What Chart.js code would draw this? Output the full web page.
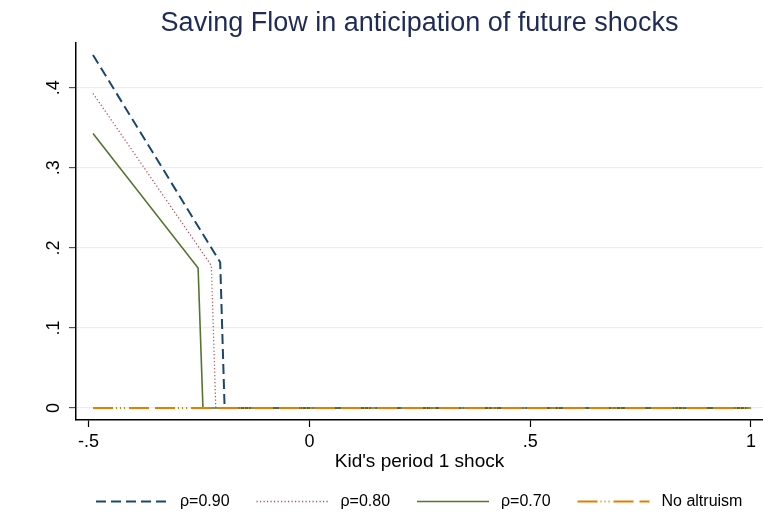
<!DOCTYPE html>
<html>
<head>
<meta charset="utf-8">
<title>Saving Flow</title>
<script src="https://cdn.jsdelivr.net/npm/chart.js@4/dist/chart.umd.min.js"></script>
<style>
  html, body { margin: 0; padding: 0; background: #fff; }
  canvas { display: block; }
</style>
</head>
<body>
<canvas id="savingChart" width="763" height="514"></canvas>
<script>
// Saving flow vs. kid's period 1 shock, one line per altruism level
const shock90 = [-0.49, -0.202, -0.192, 1];
const saving90 = [0.441, 0.182, 0, 0];

const shock80 = [-0.49, -0.222, -0.212, 1];
const saving80 = [0.393, 0.178, 0, 0];

const shock70 = [-0.49, -0.252, -0.241, 1];
const saving70 = [0.343, 0.175, 0, 0];

const shockNoAlt = [-0.49, 1];
const savingNoAlt = [0, 0];

const seriesLabels = ['\u03c1=0.90', '\u03c1=0.80', '\u03c1=0.70', 'No altruism'];

const xTickValues = [-0.5, 0, 0.5, 1];
const xTickLabels = ['-.5', '0', '.5', '1'];
const yTickValues = [0, 0.1, 0.2, 0.3, 0.4];
const yTickLabels = ['0', '.1', '.2', '.3', '.4'];

const FONT = '"Liberation Sans", Arial, sans-serif';

function toPoints(xs, ys) {
  return xs.map((x, i) => ({ x: x, y: ys[i] }));
}

// legend drawn under the axis title, four equal columns
const stataLegend = {
  id: 'stataLegend',
  afterDraw(chart) {
    const ctx = chart.ctx;
    const y = 501.5;
    chart.data.datasets.forEach((ds, i) => {
      const x0 = 96 + i * 160.5;
      ctx.save();
      ctx.strokeStyle = ds.borderColor;
      ctx.lineWidth = ds.borderWidth;
      ctx.setLineDash(ds.borderDash || []);
      ctx.beginPath();
      ctx.moveTo(x0, y);
      ctx.lineTo(x0 + 72, y);
      ctx.stroke();
      ctx.setLineDash([]);
      ctx.fillStyle = '#000';
      ctx.font = '16px ' + FONT;
      ctx.textBaseline = 'middle';
      ctx.fillText(ds.label, x0 + 84, y);
      ctx.restore();
    });
  }
};

const ctx = document.getElementById('savingChart').getContext('2d');
const savingChart = new Chart(ctx, {
  type: 'line',
  data: {
    datasets: [
      {
        label: seriesLabels[0],
        data: toPoints(shock90, saving90),
        borderColor: '#1a476f',
        borderWidth: 2,
        borderDash: [10, 5],
        order: 4
      },
      {
        label: seriesLabels[1],
        data: toPoints(shock80, saving80),
        borderColor: '#b84a56',
        borderWidth: 1.3,
        borderDash: [1.2, 2.3],
        order: 3
      },
      {
        label: seriesLabels[2],
        data: toPoints(shock70, saving70),
        borderColor: '#55752f',
        borderWidth: 1.6,
        order: 2
      },
      {
        label: seriesLabels[3],
        data: toPoints(shockNoAlt, savingNoAlt),
        borderColor: '#e37e00',
        borderWidth: 2,
        borderDash: [20, 3, 1, 3, 1, 3, 1, 4, 20, 6],
        order: 1
      }
    ]
  },
  options: {
    responsive: false,
    animation: false,
    layout: { padding: { top: 0, right: 0, bottom: 34, left: 0 } },
    elements: {
      point: { radius: 0 },
      line: { tension: 0, fill: false, borderCapStyle: 'butt' }
    },
    plugins: {
      legend: { display: false },
      tooltip: { enabled: false },
      title: {
        display: true,
        text: 'Saving Flow in anticipation of future shocks',
        color: '#1e2b58',
        fullSize: false,
        font: { family: FONT, size: 27, weight: 'normal', lineHeight: 1.2 },
        padding: { top: 7.5, bottom: 3.1 }
      }
    },
    scales: {
      x: {
        type: 'linear',
        min: -0.5285,
        max: 1.0272,
        afterBuildTicks: (axis) => { axis.ticks = xTickValues.map(v => ({ value: v })); },
        afterFit: (axis) => { axis.height = 60; },
        ticks: {
          color: '#000',
          font: { family: FONT, size: 18 },
          padding: 4,
          maxRotation: 0,
          callback: (v) => xTickLabels[xTickValues.indexOf(v)]
        },
        grid: {
          drawOnChartArea: false,
          drawTicks: true,
          tickLength: 7,
          tickColor: '#000',
          tickWidth: 1.2
        },
        border: { color: '#000', width: 1.5 },
        title: {
          display: true,
          text: "Kid's period 1 shock",
          color: '#000',
          font: { family: FONT, size: 19 },
          padding: { top: 2, bottom: 7 }
        }
      },
      y: {
        type: 'linear',
        min: -0.015,
        max: 0.456,
        afterBuildTicks: (axis) => { axis.ticks = yTickValues.map(v => ({ value: v })); },
        afterFit: (axis) => { axis.width = 76; },
        ticks: {
          color: '#000',
          font: { family: FONT, size: 18 },
          minRotation: 90,
          maxRotation: 90,
          crossAlign: 'center',
          padding: 7,
          callback: (v) => yTickLabels[yTickValues.indexOf(v)]
        },
        grid: {
          color: '#e8eff2',
          lineWidth: 1.2,
          tickLength: 7,
          tickColor: '#555',
          tickWidth: 1.2
        },
        border: { color: '#000', width: 1.5 }
      }
    }
  },
  plugins: [stataLegend]
});
</script>
</body>
</html>
